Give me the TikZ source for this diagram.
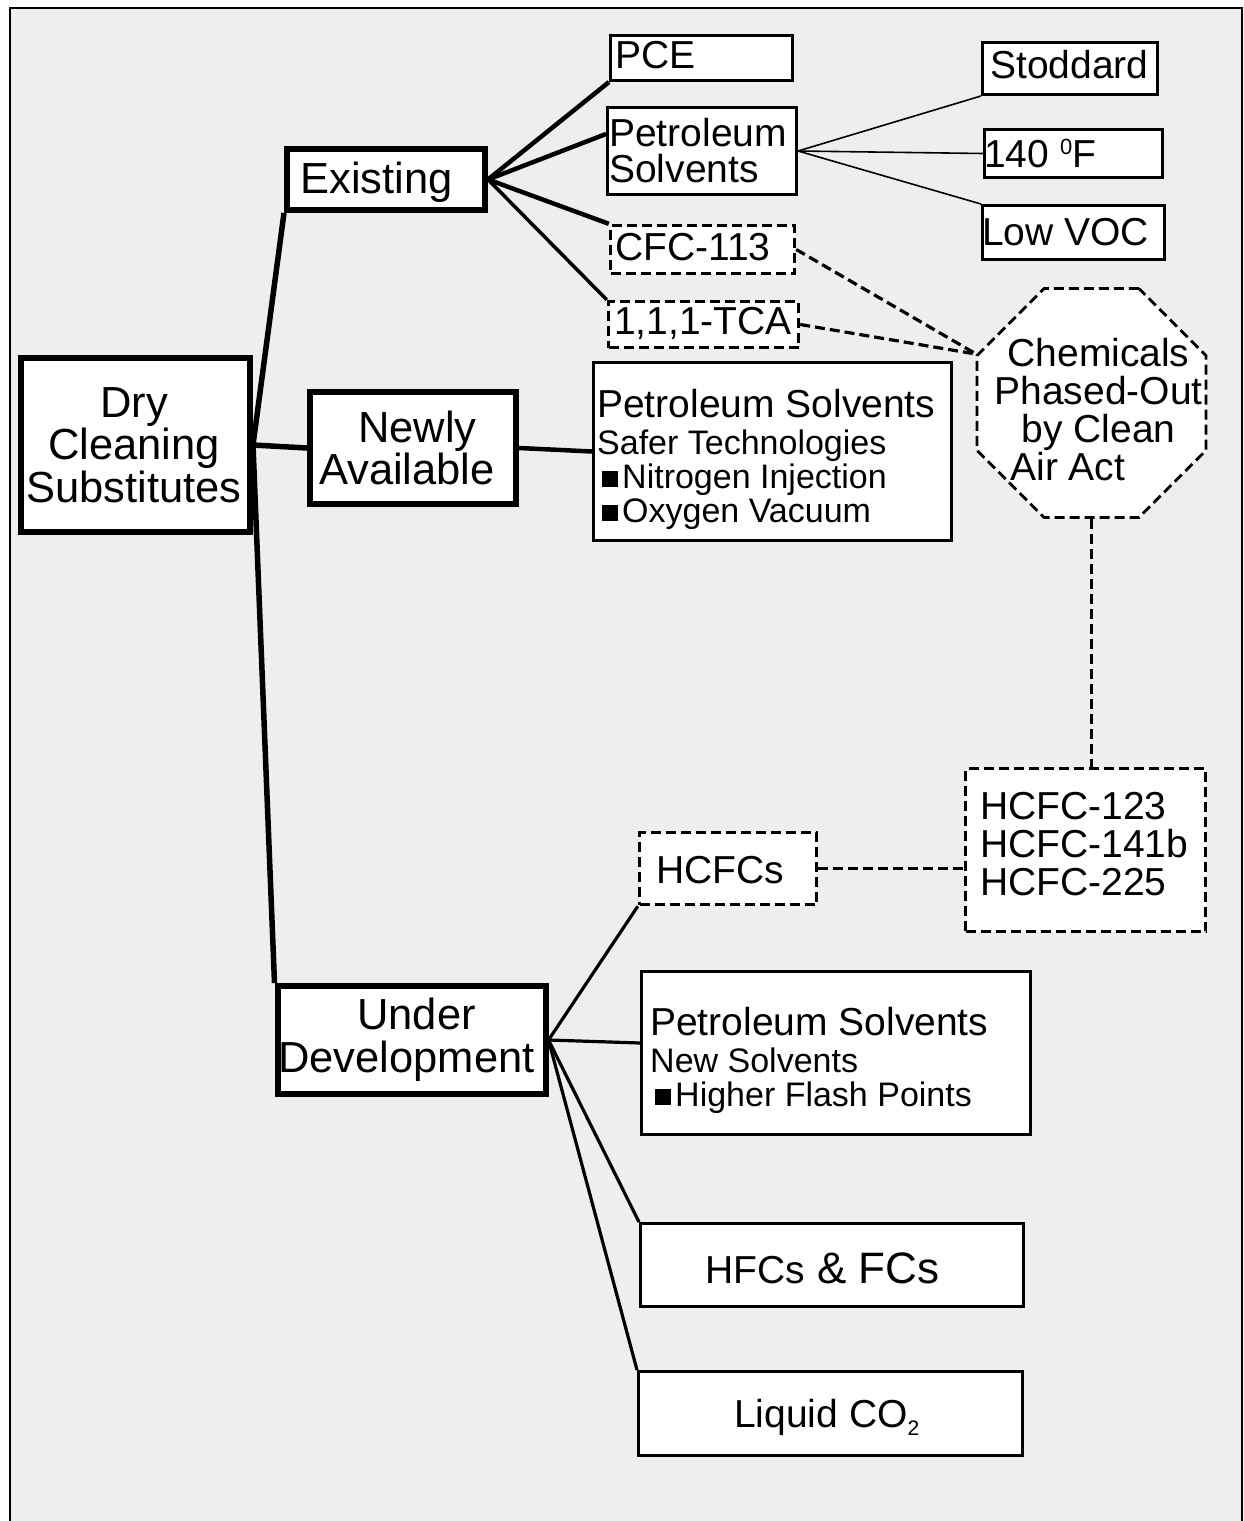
\documentclass[tikz,border=0pt]{standalone}
\usepackage{fontspec}
\setmainfont{Liberation Sans}
\usetikzlibrary{shapes.geometric,calc}
\definecolor{bggray}{HTML}{EEEEEE}
\newcommand\fsA{\fontsize{43.5}{42.5}\selectfont}
\newcommand\fsB{\fontsize{39}{38}\selectfont}
\newcommand\fsBB{\fontsize{39}{36}\selectfont}
\newcommand\fsC{\fontsize{34}{34}\selectfont}
\newcommand\sqb{\rule[1pt]{16pt}{16pt}\hspace{4pt}}
\begin{document}
\begin{tikzpicture}[x=1pt,y=-1pt,
  boxA/.style={draw, fill=white, line width=6pt, inner sep=0pt, rectangle},
  boxB/.style={draw, fill=white, line width=3pt, inner sep=0pt, rectangle},
  dsh/.style={dash pattern=on 10pt off 5pt},
  boxD/.style={draw, fill=white, line width=3.4pt, inner sep=0pt, rectangle, dsh},
  lnA/.style={line width=5.5pt},
  lnB/.style={line width=4.5pt},
  lnC/.style={line width=1.6pt},
  lnU/.style={line width=3.2pt},
  lnD/.style={line width=3.2pt, dsh},
  tc/.style={inner sep=0pt, anchor=base, align=center},
  tl/.style={inner sep=0pt, anchor=base west, align=left},
]
\useasboundingbox (0,0) rectangle (1243,1521);
% background frame
\fill[bggray] (9.5,8) rectangle (1241.5,1521);
\draw[line width=2pt] (9.5,1521) -- (9.5,8) -- (1241.5,8) -- (1241.5,1521);

% level 1 boxes
\node[boxA, minimum width=229pt, minimum height=174pt] (dcs) at (135.5,445) {};
\node[boxA, minimum width=198pt, minimum height=61pt] (exist) at (386,179.5) {};
\node[boxA, minimum width=206pt, minimum height=112pt] (newly) at (413,448) {};
\node[boxA, minimum width=268pt, minimum height=108pt] (under) at (411.5,1040) {};

% level 2 boxes
\node[boxB, minimum width=182pt, minimum height=45pt] (pce) at (701.5,58) {};
\node[boxB, minimum width=189pt, minimum height=87pt] (pets) at (702,151) {};
\node[boxD, minimum width=184pt, minimum height=48pt] (cfc) at (702.5,249.5) {};
\node[boxD, minimum width=190pt, minimum height=46pt] (tca) at (703.5,324.5) {};
\node[boxB, minimum width=175pt, minimum height=52pt] (stod) at (1070,68.5) {};
\node[boxB, minimum width=178pt, minimum height=48pt] (fdeg) at (1073.5,153.5) {};
\node[boxB, minimum width=182pt, minimum height=54pt] (lvoc) at (1073.5,232.5) {};
\node[boxB, minimum width=358pt, minimum height=178pt] (petn) at (772.5,451.5) {};
\node[draw, fill=white, regular polygon, regular polygon sides=8, minimum size=247.9pt,
      inner sep=0pt, line width=2.8pt, dsh] (oct) at (1091.5,403) {};
\node[boxD, minimum width=240pt, minimum height=163pt] (hlist) at (1085.5,850) {};
\node[boxD, minimum width=177pt, minimum height=72pt] (hcfcs) at (728,868.5) {};
\node[boxB, minimum width=389pt, minimum height=163pt] (petu) at (836,1053) {};
\node[boxB, minimum width=383pt, minimum height=83pt] (hfcs) at (832,1265) {};
\node[boxB, minimum width=384pt, minimum height=84pt] (lco) at (830.5,1413.5) {};

% connectors
\draw[lnA] (dcs.east) -- (exist.south west);
\draw[lnA] (dcs.east) -- (newly.west);
\draw[lnA] (dcs.east) -- (under.north west);
\draw[lnB] (exist.east) -- (pce.south west);
\draw[lnB] (exist.east) -- ([yshift=17pt]pets.west);
\draw[lnB] (exist.east) -- (cfc.north west);
\draw[line width=3.5pt] (exist.east) -- (tca.north west);
\draw[lnC] (pets.east) -- (stod.south west);
\draw[lnC] (pets.east) -- (fdeg.west);
\draw[lnC] (pets.east) -- (lvoc.north west);
\draw[lnB] (newly.east) -- (petn.west);
\draw[lnD] (cfc.east) -- (oct.157.5);
\draw[lnD] (tca.east) -- (oct.157.5);
\draw[lnD] (oct.south) -- (oct.south |- hlist.north);
\draw[lnD] (hcfcs.east) -- (hcfcs.east -| hlist.west);
\draw[lnU] (under.east) -- (hcfcs.south west);
\draw[lnU] (under.east) -- ([yshift=10pt]petu.west);
\draw[lnU] (under.east) -- (hfcs.north west);
\draw[lnU] (under.east) -- (lco.north west);

% texts (multi-line nodes: base = last line's baseline)
\node[tc, font=\fsA] (dcsT) at (134,502) {Dry\\Cleaning\\Substitutes};
\node[tc, font=\fsA] (existT) at (376.5,193) {Existing};
\node[tc, font=\fsA] (newlyT) at (407,484.5) {\hspace*{21pt}Newly\\Available};
\node[tc, font=\fsA] (underT) at (406.5,1072) {\hspace*{20pt}Under\\Development};

\node[tl, font=\fsB] (pceT) at (615,68.5) {PCE};
\node[tl, font=\fsBB] (petsT) at (609,182) {Petroleum\\Solvents};
\node[tl, font=\fsB] (cfcT) at (615,260.6) {CFC-113};
\node[tl, font=\fsB] (tcaT) at (614,334) {1,1,1-TCA};
\node[tl, font=\fsB] (stodT) at (990,78.5) {Stoddard};
\node[tl, font=\fsB] (fdegT) at (984,167.5) {140 \raisebox{13.5pt}{\fontsize{22}{22}\selectfont 0}F};
\node[tl, font=\fsB] (lvocT) at (982,245.6) {Low VOC};
\node[tl, font=\fsC] (petnT) at (597,522) {{\fsB Petroleum Solvents}\\[3pt]Safer Technologies\\\hspace*{5pt}\sqb Nitrogen Injection\\\hspace*{5pt}\sqb Oxygen Vacuum};
\node[tc, font=\fontsize{39}{38}\selectfont] (octT) at (1098.5,480) {Chemicals\\Phased-Out\\by Clean\\\makebox[176pt][l]{Air Act}};
\node[tl, font=\fsB] (hlistT) at (980,895) {HCFC-123\\HCFC-141b\\HCFC-225};
\node[tl, font=\fsB] (hcfcsT) at (656,883) {HCFCs};
\node[tl, font=\fsC] (petuT) at (650,1106) {{\fsB Petroleum Solvents}\\[3pt]New Solvents\\\hspace*{5pt}\sqb Higher Flash Points};
\node[tl, font=\fontsize{39}{39}\selectfont] (hfcsT) at (705,1283) {HFCs{\fontsize{44}{44}\selectfont\ \& FCs}};
\node[tl, font=\fsB] (lcoT) at (734,1427) {Liquid CO\raisebox{-8pt}{\fontsize{21}{21}\selectfont 2}};
\end{tikzpicture}
\end{document}
